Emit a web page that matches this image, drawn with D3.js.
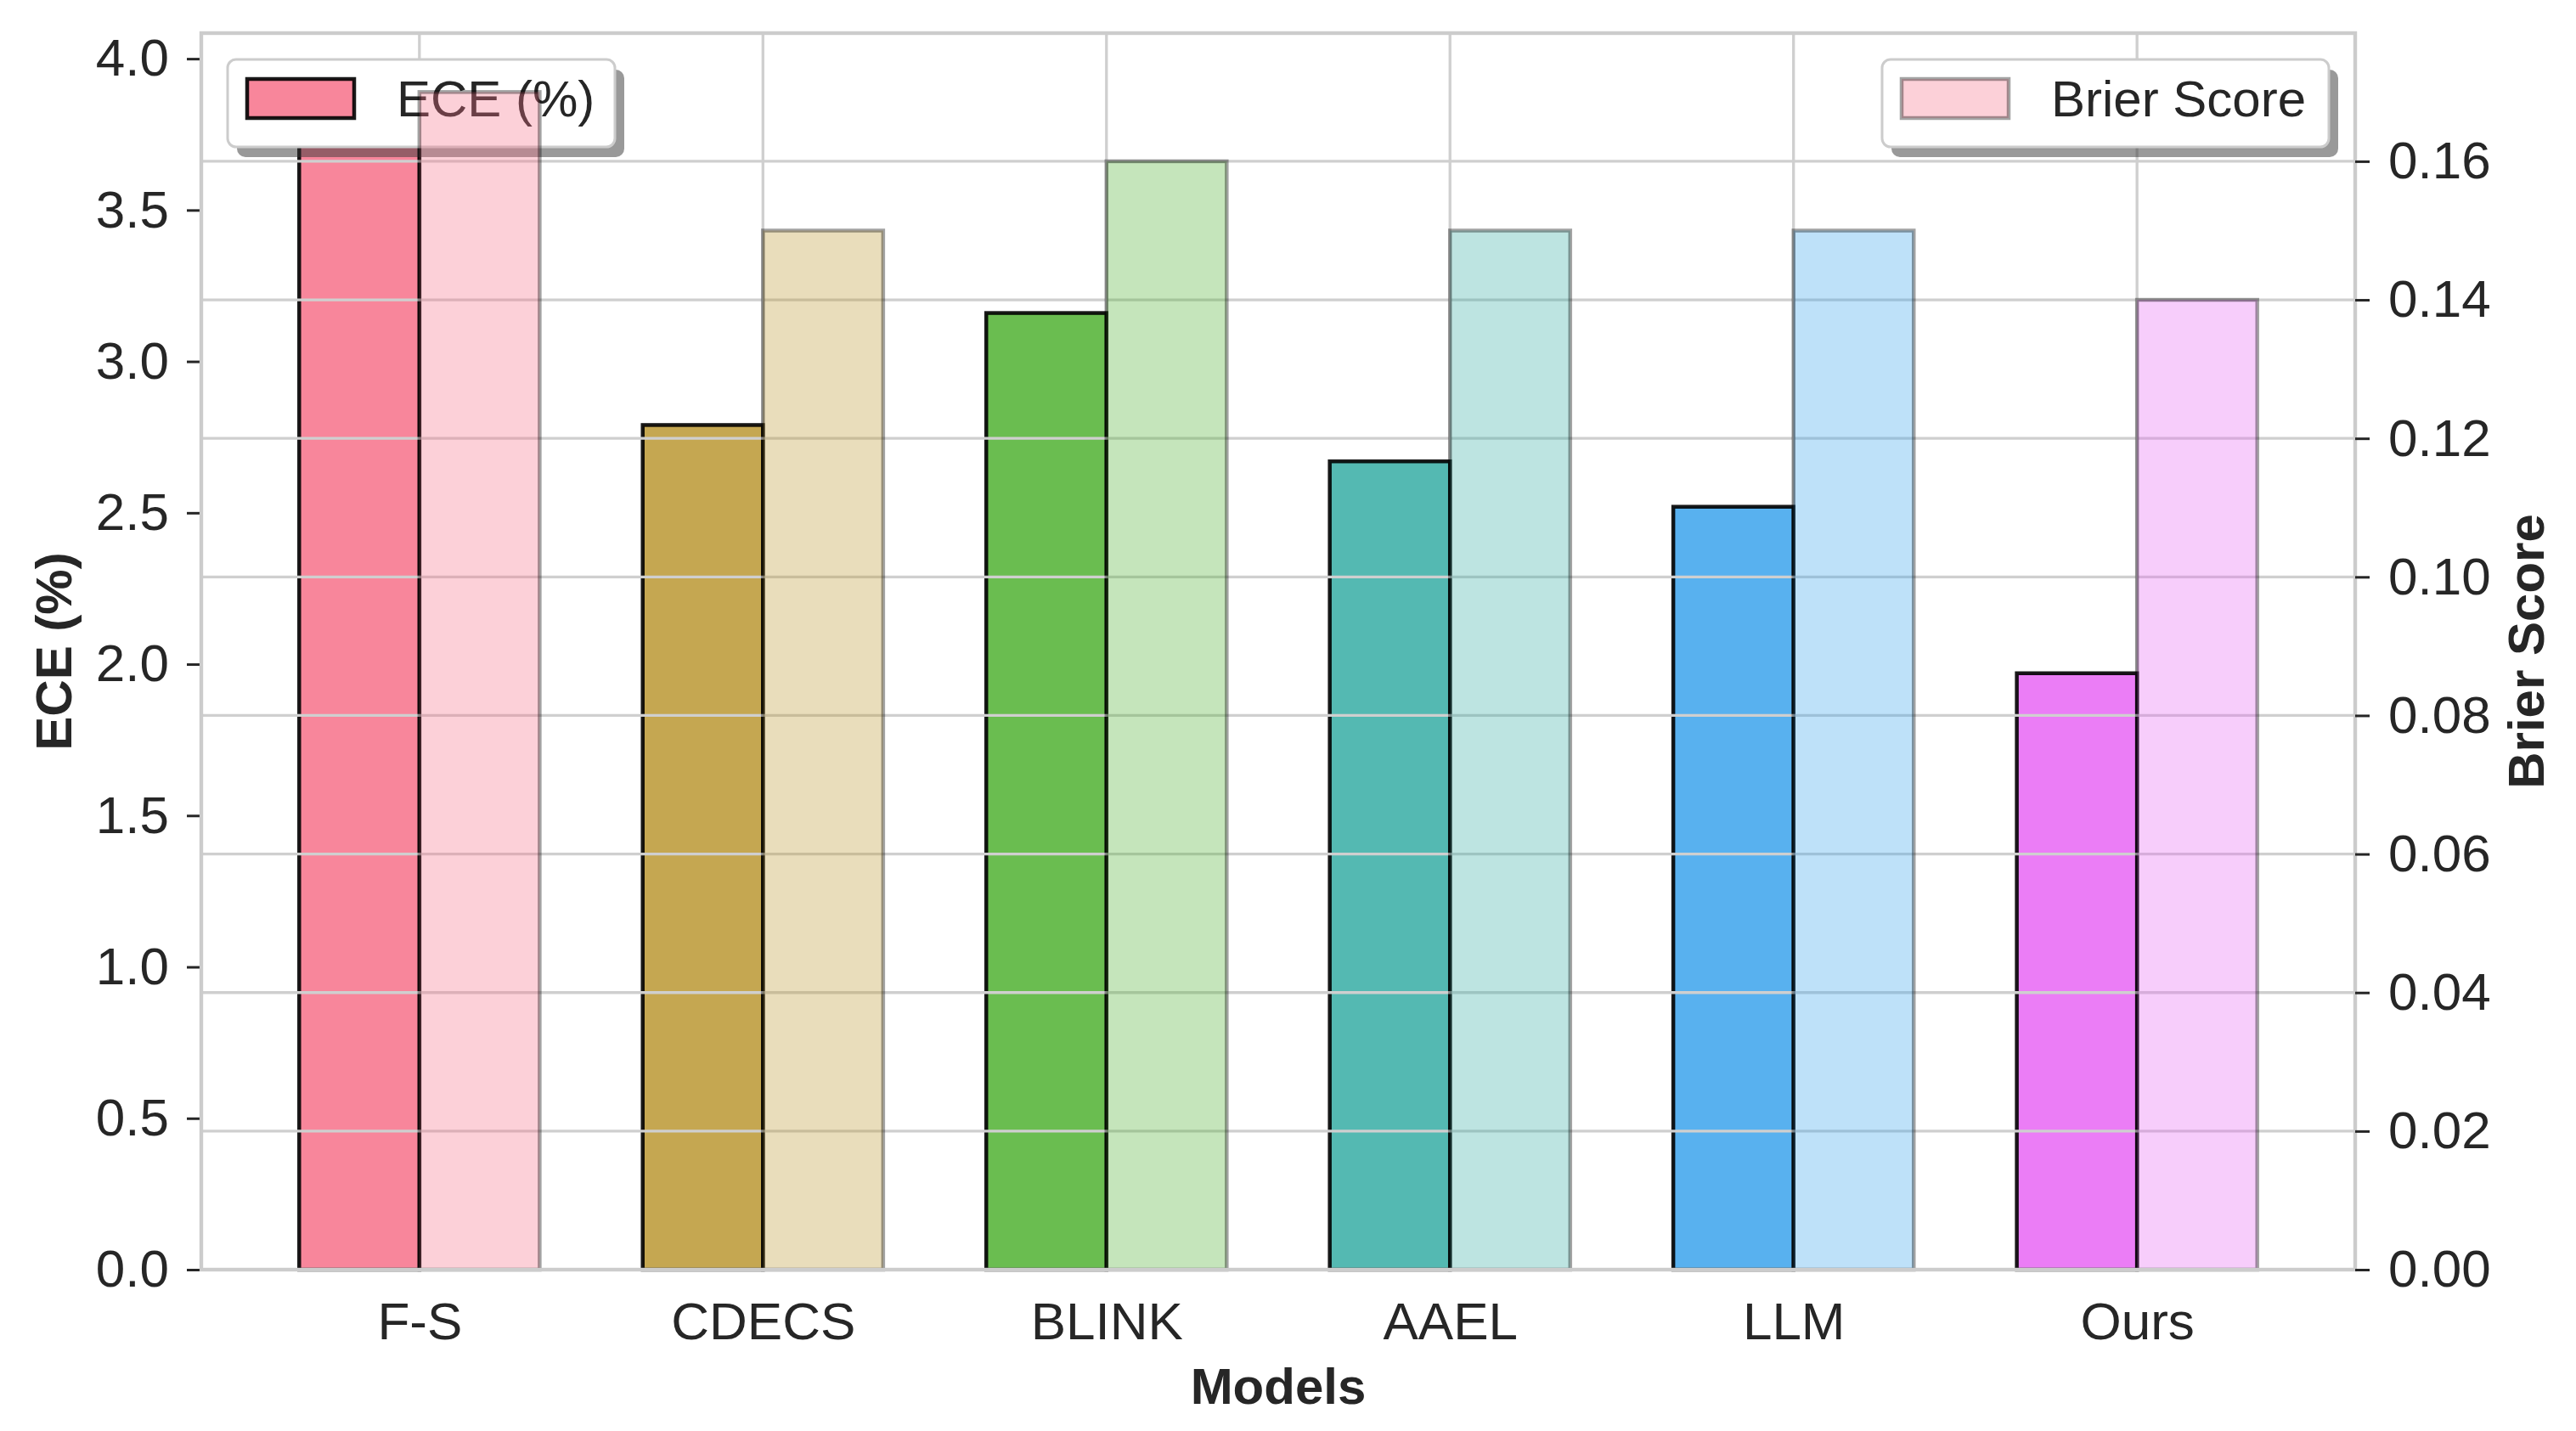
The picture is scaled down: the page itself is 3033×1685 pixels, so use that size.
<!DOCTYPE html>
<html>
<head>
<meta charset="utf-8">
<script src="https://cdn.jsdelivr.net/npm/d3@7"></script>
<style>
  html, body { margin: 0; padding: 0; background: #ffffff; }
  svg { display: block; }
  text { font-family: "Liberation Sans", Arial, Helvetica, sans-serif; fill: #262626; }
</style>
</head>
<body>
<svg id="chart" width="3033" height="1685"></svg>
<script>
// ---- data ----
const models = ["F-S", "CDECS", "BLINK", "AAEL", "LLM", "Ours"];
const eceValues = [3.89, 2.79, 3.16, 2.67, 2.52, 1.97];
const brierValues = [0.17, 0.15, 0.16, 0.15, 0.15, 0.14];
const palette = ["#f77189", "#bb9832", "#50b131", "#36ada4", "#3ba3ec", "#e866f4"];
const eceTicks = [0, 0.5, 1.0, 1.5, 2.0, 2.5, 3.0, 3.5, 4.0];
const brierTicks = [0, 0.02, 0.04, 0.06, 0.08, 0.10, 0.12, 0.14, 0.16];
const seriesNames = ["ECE (%)", "Brier Score"];
const axisTitles = { x: "Models", left: "ECE (%)", right: "Brier Score" };

// ---- layout ----
const W = 3033, H = 1685;
const L = 237, R = 2773, T = 39, B = 1495;
const barW = 0.35;
const FS = 60, TFS = 62;
const gridColor = "#cfcfcf";
const spineColor = "#cccccc";
const eceAlpha = 0.85, brierAlpha = 0.33;

const svg = d3.select("#chart");
svg.append("rect").attr("width", W).attr("height", H).attr("fill", "#fff");

const n = models.length;
const pad = (n - 1 + 2 * barW) * 0.05;
const x = d3.scaleLinear().domain([-barW - pad, n - 1 + barW + pad]).range([L, R]);
const yL = d3.scaleLinear().domain([0, d3.max(eceValues) * 1.05]).range([B, T]);
const yR = d3.scaleLinear().domain([0, d3.max(brierValues) * 1.05]).range([B, T]);

// ---- ax1: vertical grid ----
svg.append("g").selectAll("line").data(d3.range(n)).join("line")
  .attr("x1", i => x(i)).attr("x2", i => x(i))
  .attr("y1", T).attr("y2", B)
  .attr("stroke", gridColor).attr("stroke-width", 3.3);

// ECE bars
svg.append("g").selectAll("rect").data(eceValues).join("rect")
  .attr("x", (d, i) => x(i - barW))
  .attr("width", (d, i) => x(i) - x(i - barW))
  .attr("y", d => yL(d))
  .attr("height", d => B - yL(d))
  .attr("fill", (d, i) => palette[i]).attr("fill-opacity", eceAlpha)
  .attr("stroke", "#000").attr("stroke-opacity", 0.9).attr("stroke-width", 4.5);

function spines() {
  const g = svg.append("g");
  g.append("rect").attr("x", L).attr("y", T).attr("width", R - L).attr("height", B - T)
    .attr("fill", "none").attr("stroke", spineColor).attr("stroke-width", 4.2);
}
spines();

// axes
function styleAxis(g) {
  g.select(".domain").remove();
  g.selectAll(".tick line").attr("stroke", "#262626").attr("stroke-width", 3);
  g.selectAll(".tick text").attr("font-size", TFS).attr("fill", "#262626")
    .attr("font-family", "Liberation Sans, Arial, sans-serif");
}
const axL = svg.append("g").attr("transform", `translate(${L},0)`)
  .call(d3.axisLeft(yL).tickValues(eceTicks).tickFormat(d3.format(".1f")).tickSize(17).tickPadding(21));
styleAxis(axL);

const axB = svg.append("g").attr("transform", `translate(0,${B})`)
  .call(d3.axisBottom(x).tickValues(d3.range(n)).tickFormat(i => models[i]).tickSize(0).tickPadding(38));
styleAxis(axB);

// legend helper
function legend(x0, y0, w, h, patchFill, patchAlpha, edgeAlpha, label) {
  const g = svg.append("g");
  g.append("rect").attr("x", x0 + 11).attr("y", y0 + 12).attr("width", w).attr("height", h)
    .attr("rx", 10).attr("fill", "#333").attr("fill-opacity", 0.5);
  g.append("rect").attr("x", x0).attr("y", y0).attr("width", w).attr("height", h)
    .attr("rx", 10).attr("fill", "#fff").attr("stroke", "#cccccc").attr("stroke-width", 3);
  g.append("rect").attr("x", x0 + 23).attr("y", y0 + 23).attr("width", 126).attr("height", 46)
    .attr("fill", patchFill).attr("fill-opacity", patchAlpha)
    .attr("stroke", "#000").attr("stroke-opacity", edgeAlpha).attr("stroke-width", 4.5);
  g.append("text").attr("x", x0 + 199).attr("y", y0 + 67).attr("font-size", FS).text(label);
}
legend(268, 70, 456, 103, palette[0], eceAlpha, 0.9, seriesNames[0]);

// ---- ax2 ----
svg.append("g").selectAll("line").data(brierTicks).join("line")
  .attr("x1", L).attr("x2", R)
  .attr("y1", d => yR(d)).attr("y2", d => yR(d))
  .attr("stroke", gridColor).attr("stroke-width", 3.3);

svg.append("g").selectAll("rect").data(brierValues).join("rect")
  .attr("x", (d, i) => x(i))
  .attr("width", (d, i) => x(i + barW) - x(i))
  .attr("y", d => yR(d))
  .attr("height", d => B - yR(d))
  .attr("fill", (d, i) => palette[i]).attr("fill-opacity", brierAlpha)
  .attr("stroke", "#000").attr("stroke-opacity", 0.36).attr("stroke-width", 4.5);

spines();

const axR = svg.append("g").attr("transform", `translate(${R},0)`)
  .call(d3.axisRight(yR).tickValues(brierTicks).tickFormat(d3.format(".2f")).tickSize(17).tickPadding(22));
styleAxis(axR);

legend(2216, 70, 526, 103, palette[0], brierAlpha, 0.36, seriesNames[1]);

// axis titles
svg.append("text").attr("x", (L + R) / 2).attr("y", 1653)
  .attr("text-anchor", "middle").attr("font-size", FS).attr("font-weight", "bold").text(axisTitles.x);
svg.append("text").attr("transform", `translate(84,${(T + B) / 2}) rotate(-90)`)
  .attr("text-anchor", "middle").attr("font-size", FS).attr("font-weight", "bold").text(axisTitles.left);
svg.append("text").attr("transform", `translate(2995,${(T + B) / 2}) rotate(-90)`)
  .attr("text-anchor", "middle").attr("font-size", FS).attr("font-weight", "bold").text(axisTitles.right);
</script>
</body>
</html>
